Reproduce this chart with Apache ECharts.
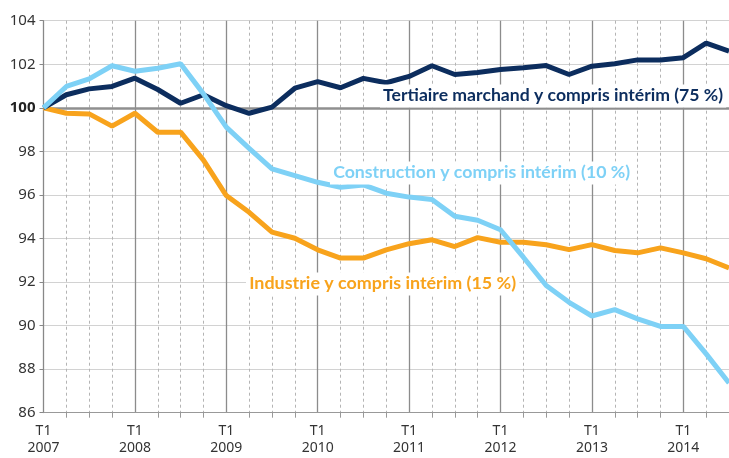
<!DOCTYPE html>
<html>
<head>
<meta charset="utf-8">
<script src="https://cdn.jsdelivr.net/npm/echarts@6/dist/echarts.min.js"></script>
<style>
  html, body { margin: 0; padding: 0; background: #fff; }
  #chart { width: 729px; height: 458px; }
</style>
</head>
<body>
<div id="chart"></div>
<script>
// quarters T1 2007 .. T3 2014
const quarters = [];
for (let y = 2007; y <= 2014; y++) {
    for (let q = 1; q <= 4; q++) {
        if (y === 2014 && q > 3) break;
        quarters.push('T' + q + '\n' + y);
    }
}

const tertiaire = [100, 100.6, 100.87, 100.98, 101.36, 100.84, 100.21, 100.6, 100.1, 99.75,
    100.03, 100.9, 101.2, 100.92, 101.35, 101.15, 101.44, 101.93, 101.53, 101.62,
    101.76, 101.84, 101.94, 101.53, 101.91, 102.02, 102.2, 102.2, 102.3, 102.97, 102.6];

const construction = [100, 100.98, 101.33, 101.93, 101.68, 101.82, 102.02, 100.64, 99.11, 98.14,
    97.2, 96.89, 96.58, 96.35, 96.46, 96.08, 95.9, 95.79, 95.02, 94.84,
    94.4, 93.14, 91.84, 91.07, 90.44, 90.73, 90.31, 89.96, 89.96, 88.7, 87.36];

const industrie = [100, 99.75, 99.72, 99.16, 99.75, 98.88, 98.88, 97.6, 95.97, 95.2,
    94.29, 94.01, 93.48, 93.1, 93.1, 93.48, 93.76, 93.94, 93.63, 94.04,
    93.83, 93.83, 93.71, 93.49, 93.72, 93.45, 93.34, 93.57, 93.34, 93.07, 92.65];

const labelFont = 'Lato, "Open Sans", sans-serif';

function fitScale(text, size, target) {
    const ctx = document.createElement('canvas').getContext('2d');
    ctx.font = 'bold ' + size + 'px ' + labelFont;
    return target / ctx.measureText(text).width;
}

function note(text, color, x, y, width) {
    const s = fitScale(text, 17, width);
    return {
        type: 'text',
        x: x, y: y,
        scaleX: s,
        z: 100,
        style: {
            text: text,
            fill: color,
            font: 'bold 17px ' + labelFont,
            verticalAlign: 'middle',
            backgroundColor: '#fff',
            padding: [3, 3, 3, 3]
        }
    };
}

const chart = echarts.init(document.getElementById('chart'));

const option = {
    animation: false,
    grid: { left: 43.5, right: 0, top: 20.7, bottom: 45.3 },
    xAxis: [
        {
            type: 'category',
            data: quarters,
            boundaryGap: false,
            axisLine: { lineStyle: { color: '#999', width: 1 } },
            axisTick: { interval: (i) => i % 4 !== 0, length: 5, lineStyle: { color: '#999' } },
            axisLabel: {
                interval: (i) => i % 4 === 0,
                hideOverlap: false,
                color: '#333',
                fontFamily: '"Noto Sans", sans-serif',
                fontSize: 14,
                lineHeight: 17,
                margin: 10
            },
            splitLine: {
                show: true,
                interval: (i) => i % 4 !== 0,
                lineStyle: { color: '#b4b4b4', type: [3, 3], width: 1 }
            }
        },
        {
            type: 'category',
            data: quarters,
            boundaryGap: false,
            position: 'bottom',
            axisLine: { show: false },
            axisTick: { show: false },
            axisLabel: { show: false },
            splitLine: {
                show: true,
                interval: (i) => i % 4 === 0,
                lineStyle: { color: '#8c8c8c', width: 1.3 }
            }
        }
    ],
    yAxis: {
        type: 'value',
        min: 86,
        max: 104,
        interval: 2,
        axisLine: { show: true, lineStyle: { color: '#888', width: 1 } },
        axisTick: { show: true, length: 4, lineStyle: { color: '#888' } },
        axisLabel: {
            color: '#333',
            fontFamily: '"Noto Sans", sans-serif',
            fontSize: 15,
            margin: 8,
            formatter: (v) => v === 100 ? '{b|100}' : String(v),
            rich: { b: { fontWeight: 'bold', fontSize: 15, color: '#222', fontFamily: '"Noto Sans", sans-serif' } }
        },
        splitLine: {
            show: true,
            lineStyle: {
                color: '#d2d2d2',
                width: 1.2
            }
        }
    },
    series: [
        {
            name: 'Industrie y compris intérim (15 %)',
            type: 'line',
            data: industrie,
            showSymbol: false,
            lineStyle: { color: '#f8a31c', width: 5 },
            z: 3,
            markLine: {
                silent: true,
                symbol: 'none',
                label: { show: false },
                lineStyle: { color: '#8f8f8f', width: 2.5, type: 'solid' },
                data: [{ yAxis: 100 }],
                z: 1
            }
        },
        {
            name: 'Tertiaire marchand y compris intérim (75 %)',
            type: 'line',
            data: tertiaire,
            showSymbol: false,
            lineStyle: { color: '#0c2d5e', width: 5 },
            z: 4
        },
        {
            name: 'Construction y compris intérim (10 %)',
            type: 'line',
            data: construction,
            showSymbol: false,
            lineStyle: { color: '#7ed1f6', width: 5 },
            z: 5
        }
    ],
    graphic: [
        note('Tertiaire marchand y compris intérim (75 %)', '#0c2d5e', 380, 96, 340),
        note('Construction y compris intérim (10 %)', '#7ed1f6', 330, 173, 297),
        note('Industrie y compris intérim (15 %)', '#f8a31c', 246, 284, 267)
    ]
};

chart.setOption(option);
</script>
</body>
</html>
